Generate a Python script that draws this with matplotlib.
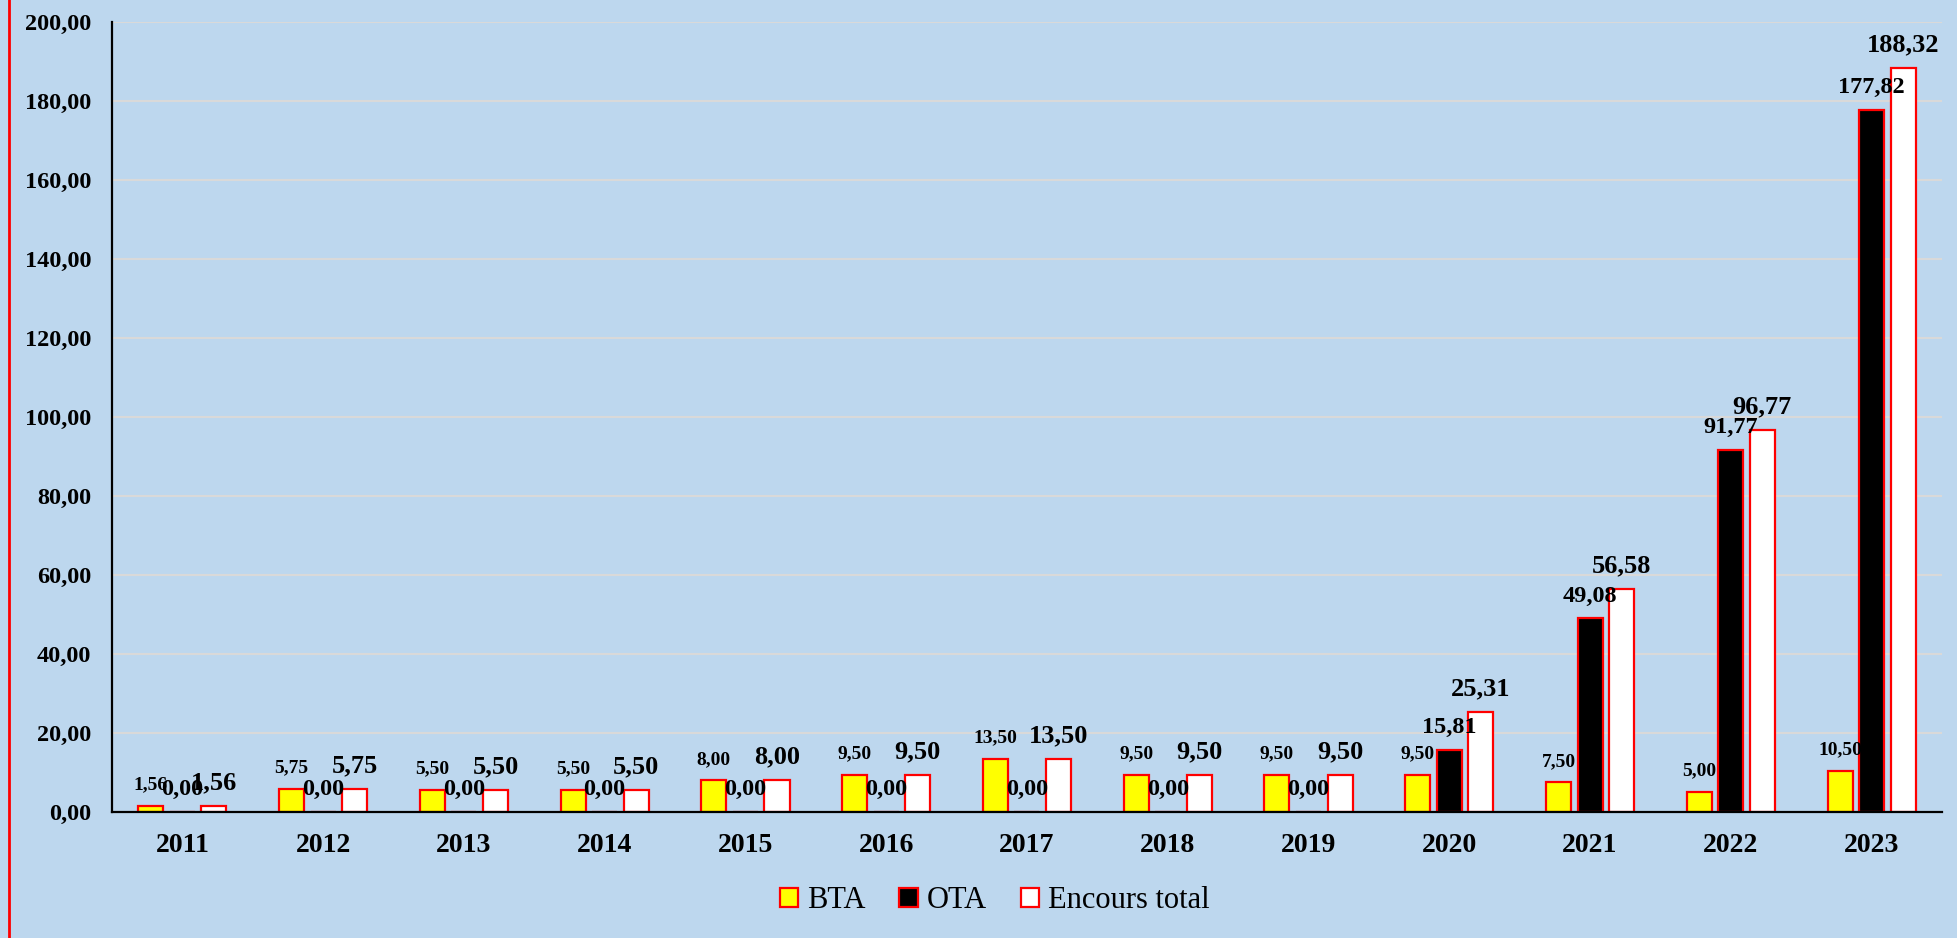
import matplotlib.pyplot as plt
import numpy as np
from matplotlib.lines import Line2D

years = ["2011", "2012", "2013", "2014", "2015", "2016", "2017",
         "2018", "2019", "2020", "2021", "2022", "2023"]
bta = [1.56, 5.75, 5.50, 5.50, 8.00, 9.50, 13.50, 9.50, 9.50, 9.50, 7.50, 5.00, 10.50]
ota = [0.00, 0.00, 0.00, 0.00, 0.00, 0.00, 0.00, 0.00, 0.00, 15.81, 49.08, 91.77, 177.82]
encours = [1.56, 5.75, 5.50, 5.50, 8.00, 9.50, 13.50, 9.50, 9.50, 25.31, 56.58, 96.77, 188.32]

bg = "#BDD7EE"
plt.rcParams['font.family'] = ['Liberation Serif', 'DejaVu Serif']

fig = plt.figure(figsize=(19.58, 9.38), dpi=100, facecolor=bg)
ax = fig.add_axes([0.0572, 0.1343, 0.9346, 0.8422])
ax.set_facecolor(bg)

x = np.arange(len(years))
w = 0.178
off = 0.224

series = [(bta, "#FFFF00", "BTA", 14), (ota, "#000000", "OTA", 17.5), (encours, "#FFFFFF", "Encours total", 19)]
for k, (vals, col, name, fs) in enumerate(series):
    pos = x + (k - 1) * off
    ax.bar(pos, vals, width=w, color=col, edgecolor="#FF0000", linewidth=1.6, zorder=3, label=name)
    for xi, v in zip(pos, vals):
        ax.annotate(f"{v:.2f}".replace(".", ","), xy=(xi, v), xytext=(0, 12),
                    textcoords="offset points", ha="center", va="baseline",
                    fontsize=fs, fontweight="bold", zorder=5)

ax.set_xlim(-0.5, len(years) - 0.5)
ax.set_ylim(0, 200)
ax.set_yticks(np.arange(0, 201, 20))
ax.set_yticklabels([f"{t:.2f}".replace(".", ",") for t in np.arange(0, 201, 20)],
                   fontsize=17.5, fontweight="bold")
ax.set_xticks(x)
ax.set_xticklabels(years, fontsize=20, fontweight="bold")
ax.tick_params(axis="both", length=0)
ax.tick_params(axis="y", pad=15)
ax.tick_params(axis="x", pad=15)

ax.grid(axis="y", color="#D9D9D9", linewidth=1.5, zorder=0)
for s in ["top", "right"]:
    ax.spines[s].set_visible(False)
ax.spines["left"].set_linewidth(1.6)
ax.spines["bottom"].set_linewidth(1.6)
ax.spines["left"].set_zorder(4)
ax.spines["bottom"].set_zorder(4)

fig.legend(loc="center", bbox_to_anchor=(0.508, 0.04), ncol=3, frameon=False,
           fontsize=22, handlelength=0.6, handleheight=0.6, handletextpad=0.3,
           columnspacing=1.1)

# red border on the left edge
fig.add_artist(Line2D([0.0045, 0.0045], [0, 1], color="#FF0000", linewidth=2, transform=fig.transFigure))

fig.savefig("out.png", dpi=100, facecolor=bg)
